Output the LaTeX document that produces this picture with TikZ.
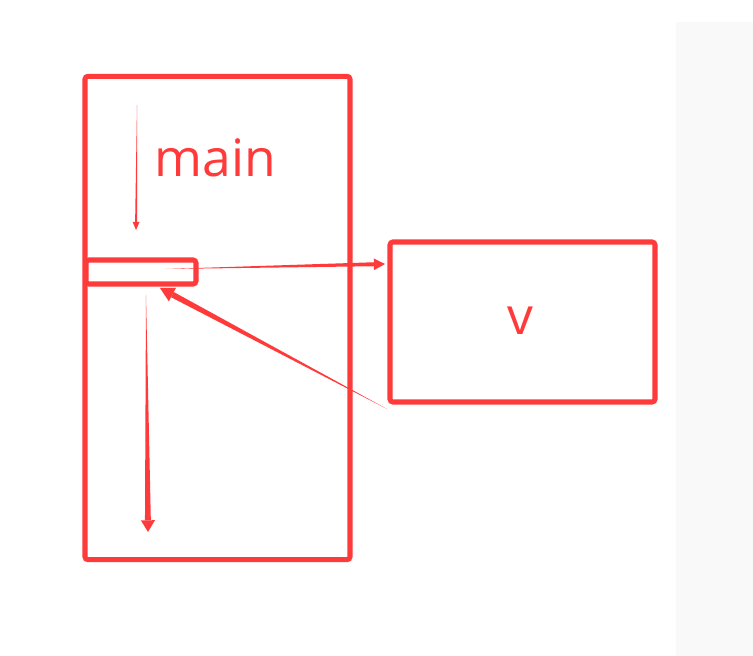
\documentclass[tikz,border=0pt]{standalone}
\usepackage{fontspec}
\setmainfont{Open Sans}
\usepackage{tikz}
\usepackage{xcolor}
\usetikzlibrary{calc}

\definecolor{pen}{RGB}{255,58,58}
\definecolor{panel}{RGB}{249,249,249}

\begin{document}
\begin{tikzpicture}[x=0.03cm, y=-0.03cm,
        frame/.style={draw=pen, line width=4.3pt, rounded corners=2.5pt, minimum width=#1},
        word/.style={text=pen, anchor=base, font=\fontsize{44}{50}\selectfont}]
        \useasboundingbox (0, 0) rectangle (753, 656);
        \fill[panel] (676, 22) rectangle (753, 656);

        \node[frame=7.95cm, minimum height=14.5cm] (main) at (217.5, 318) {};
        \node[frame=3.3cm, minimum height=0.72cm] (slot) at (141, 272) {};
        \node[frame=7.95cm, minimum height=4.8cm] (v) at (522.5, 322) {};

        \node[word] (mainlabel) at (215.5, 177) {main};
        \node[word] (vlabel) at (520, 335) {v};

        \coordinate (a1s) at (137, 105);
        \coordinate (a1t) at (136, 230);
        \coordinate (a2s) at (166, 269);
        \coordinate (a2t) at (385, 264);
        \coordinate (a3s) at (387, 409);
        \coordinate (a3t) at (160, 288);
        \coordinate (a4s) at (146, 295);
        \coordinate (a4t) at (148, 532);

        \foreach \s/\t/\w/\l/\h in {a1s/a1t/0.8pt/7pt/3pt,
                a2s/a2t/1.7pt/9.5pt/5pt,
                a3s/a3t/2.5pt/12pt/6.5pt,
                a4s/a4t/2.5pt/10pt/6pt} {
            \coordinate (b) at ($(\t)!\l!(\s)$);
            \fill[pen] (\s) -- ($(b)!\w!90:(\t)$) -- ($(b)!\w!-90:(\t)$) -- cycle;
            \fill[pen] (\t) -- ($(b)!\h!90:(\t)$) -- ($(b)!\h!-90:(\t)$) -- cycle;
        }
    \end{tikzpicture}
\end{document}
